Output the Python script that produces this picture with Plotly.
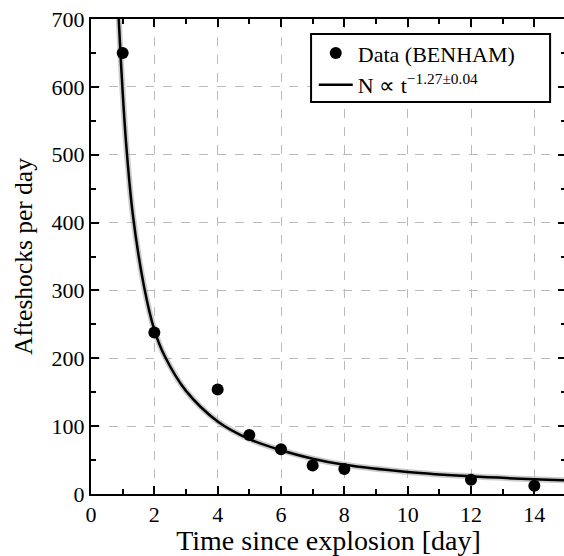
import plotly.graph_objects as go

# Data points (BENHAM)
data_t = [1, 2, 4, 5, 6, 7, 8, 12, 14]
data_n = [650, 238, 154, 87, 66, 42, 37, 21, 12]

# Fitted power-law curve
fit_t = [0.86, 0.875, 1.0, 1.12, 1.32, 1.67, 2.0, 2.33, 3.0, 4.0, 5, 6, 7, 8, 10, 12, 14, 15]
fit_n = [720, 700, 592, 510, 412, 307, 242, 203, 152, 107, 81, 64.5, 52, 43, 32.5, 26, 21.8, 20.3]

x_ticks = [0, 2, 4, 6, 8, 10, 12, 14]
y_ticks = [0, 100, 200, 300, 400, 500, 600, 700]

font = "Times New Roman, Liberation Serif, serif"

fig = go.Figure()
# faint uncertainty band
fig.add_trace(go.Scatter(x=fit_t, y=fit_n, mode="lines",
                         line=dict(color="rgba(170,170,170,0.6)", width=6, shape="spline", smoothing=1.0),
                         showlegend=False, hoverinfo="skip"))
fig.add_trace(go.Scatter(x=data_t, y=data_n, mode="markers", name="Data (BENHAM)",
                         marker=dict(color="black", size=12)))
fig.add_trace(go.Scatter(x=fit_t, y=fit_n, mode="lines", name="N ∝ t<sup>−1.27±0.04</sup>",
                         line=dict(color="black", width=2.5, shape="spline", smoothing=1.0)))

axis_common = dict(
    showline=True, linecolor="black", linewidth=2, mirror="ticks",
    ticks="inside", ticklen=8, tickwidth=1.5, tickcolor="black",
    showgrid=True, gridcolor="#bbbbbb", griddash="dash", gridwidth=1.2,
    zeroline=False,
    tickfont=dict(family=font, size=22, color="black"),
)

fig.update_xaxes(range=[0, 15], tickvals=x_ticks, ticktext=[str(v) for v in x_ticks],
                 minor=dict(ticks="inside", ticklen=5, dtick=1, tick0=0, tickcolor="black", showgrid=False),
                 title=dict(text="Time since explosion [day]", font=dict(family=font, size=28, color="black"), standoff=2),
                 **axis_common)
fig.update_yaxes(range=[0, 700], tickvals=y_ticks, ticktext=[str(v) for v in y_ticks],
                 minor=dict(ticks="inside", ticklen=5, dtick=50, tick0=0, tickcolor="black", showgrid=False),
                 title=dict(text="Afteshocks per day", font=dict(family=font, size=25.5, color="black"), standoff=12),
                 **axis_common)

# legend frame
fig.add_shape(type="rect", xref="paper", yref="paper", x0=0.4633, x1=0.9665, y0=0.8253, y1=0.9684,
              line=dict(color="black", width=2), fillcolor="white", layer="above")

fig.update_layout(
    width=572, height=556,
    margin=dict(l=91, r=4, t=19, b=62),
    plot_bgcolor="white", paper_bgcolor="white",
    font=dict(family=font, color="black"),
    legend=dict(x=0.469, y=0.972, xanchor="left", yanchor="top",
                bgcolor="rgba(0,0,0,0)", borderwidth=0,
                font=dict(family=font, size=22, color="black"),
                itemwidth=34, tracegroupgap=0),
)

fig.write_html("out.html", post_script="document.body.style.margin='0';document.body.style.overflow='hidden';")
